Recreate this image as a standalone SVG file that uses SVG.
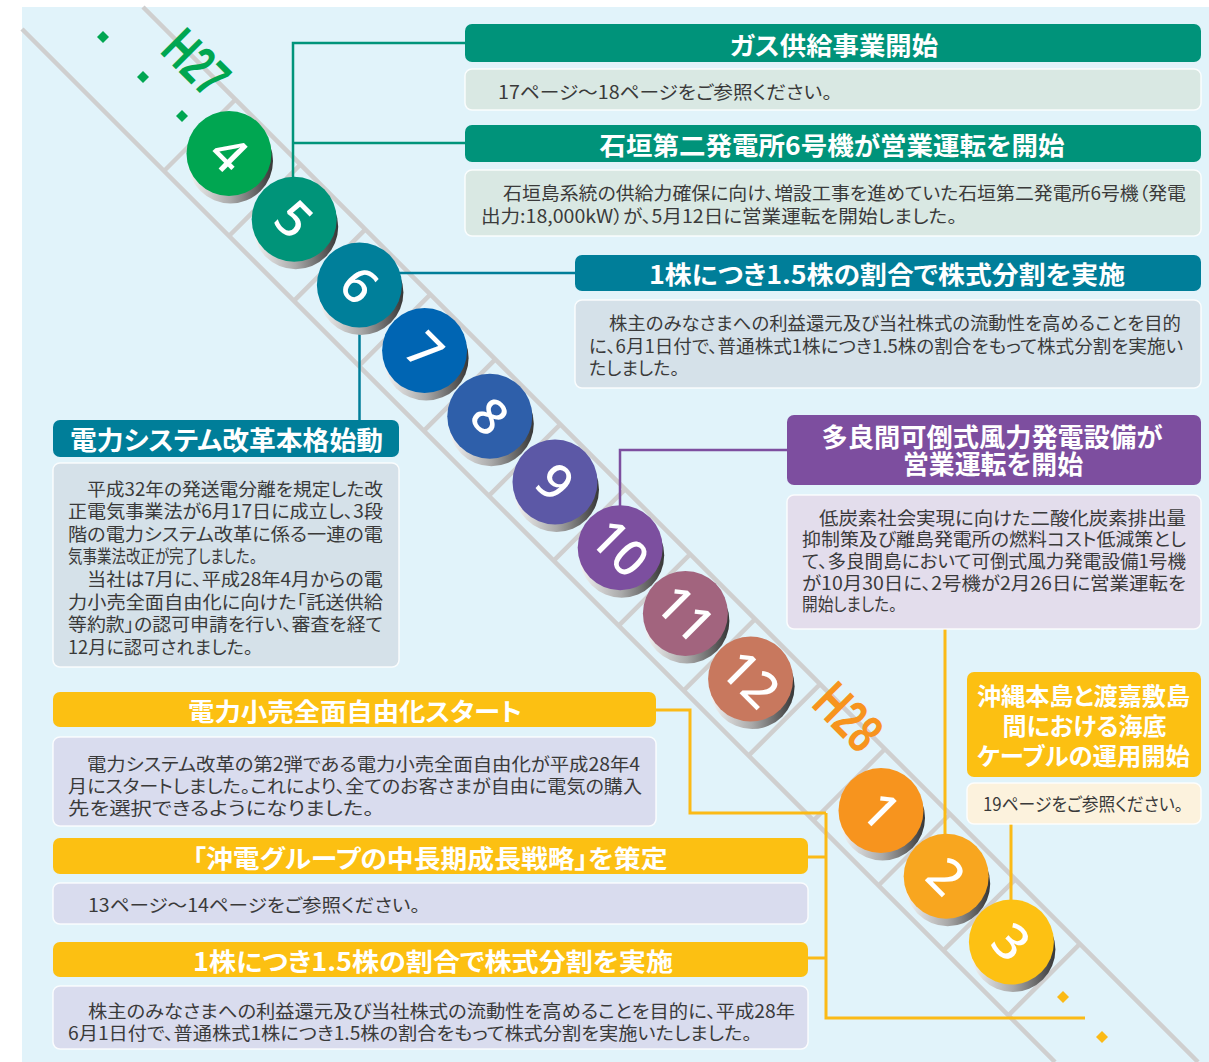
<svg xmlns="http://www.w3.org/2000/svg" width="1209" height="1062" viewBox="0 0 1209 1062">
<style>
.trk{stroke:#CFCFCF;stroke-width:4.5;fill:none;stroke-linecap:butt}
.cg{stroke:#00947A;stroke-width:2.5;fill:none}
.ct{stroke:#007E99;stroke-width:2.5;fill:none}
.cp{stroke:#7D4E9F;stroke-width:2.5;fill:none}
.cy{stroke:#FBBA16;stroke-width:3;fill:none}
.sh{fill:url(#shade)}
.num{font-family:"Noto Sans","DejaVu Sans",sans-serif;font-weight:500;font-size:50px;fill:#fff;text-anchor:middle}
.yr{font-family:"Liberation Sans","Noto Sans",sans-serif;font-weight:700;font-size:55px;text-anchor:middle}
.ht{font-family:"Noto Sans CJK JP","Noto Sans CJK SC",sans-serif;font-weight:700;fill:#fff;text-anchor:middle;dominant-baseline:central;font-feature-settings:"palt"}
.bt{font-family:"Noto Sans CJK JP","Noto Sans CJK SC",sans-serif;font-weight:400;font-size:18px;fill:#3a3a3a;dominant-baseline:central;font-feature-settings:"palt"}
.bx{stroke:#ffffff;stroke-width:1.5;stroke-opacity:0.85}
</style>
<defs>
<linearGradient id="shade" x1="0" y1="0" x2="1" y2="0">
<stop offset="0" stop-color="#f4f4f4"/>
<stop offset="0.5" stop-color="#a9a9a9"/>
<stop offset="1" stop-color="#363636"/>
</linearGradient>
</defs>

<rect x="22" y="7" width="1187" height="1055" fill="#E1F3FA"/>

<g id="track">
<path class="trk" d="M22,29 L1055,1062 M143,7 L1198,1062"/>
<path class="trk" d="M164,171 L235.5,99.5 M229,236 L300.5,164.5 M293.9,300.9 L365.4,229.4 M358.9,365.9 L430.4,294.4 M423.8,430.8 L495.3,359.3 M488.8,495.8 L560.3,424.3 M553.7,560.7 L625.2,489.2 M618.7,625.7 L690.2,554.2 M683.6,690.6 L755.1,619.1 M748.6,755.6 L820.1,684.1 M813.5,820.5 L885,749 M878.5,885.5 L950,814 M943.4,950.4 L1014.9,879.9 M1008.4,1015.4 L1079.9,943.9"/>
</g>

<g id="connectors">
<path class="cg" d="M465,43 H293 V200 M293,143 H465"/>
<path class="ct" d="M575,273 H380 M359.5,300 V420"/>
<path class="cp" d="M787,450 H620 V530"/>
<path class="cy" d="M945,629 V860 M1011,824 V920"/>
<path class="cy" d="M656,710 H690 V813 H826 M826,813 V1018 H1085 M808,857 H826 M808,958 H826"/>
</g>

<g id="coin-4" transform="translate(229,153.5)"><circle class="sh" cx="1.5" cy="7.5" r="42.5"/><circle r="42.5" fill="#00A651"/><text class="num" transform="rotate(45)" y="18">4</text></g>
<g id="coin-5" transform="translate(294.2,219.2)"><circle class="sh" cx="1.5" cy="7.5" r="42.5"/><circle r="42.5" fill="#009479"/><text class="num" transform="rotate(45)" y="18">5</text></g>
<g id="coin-6" transform="translate(359.4,284.9)"><circle class="sh" cx="1.5" cy="7.5" r="42.5"/><circle r="42.5" fill="#007F9A"/><text class="num" transform="rotate(45)" y="18">6</text></g>
<g id="coin-7" transform="translate(424.6,350.6)"><circle class="sh" cx="1.5" cy="7.5" r="42.5"/><circle r="42.5" fill="#0065B3"/><text class="num" transform="rotate(45)" y="18">7</text></g>
<g id="coin-8" transform="translate(489.8,416.3)"><circle class="sh" cx="1.5" cy="7.5" r="42.5"/><circle r="42.5" fill="#2E5FAA"/><text class="num" transform="rotate(45)" y="18">8</text></g>
<g id="coin-9" transform="translate(555,482)"><circle class="sh" cx="1.5" cy="7.5" r="42.5"/><circle r="42.5" fill="#5C58A6"/><text class="num" transform="rotate(45)" y="18">9</text></g>
<g id="coin-10" transform="translate(620.2,547.7)"><circle class="sh" cx="1.5" cy="7.5" r="42.5"/><circle r="42.5" fill="#7C4F9F"/><text class="num" transform="rotate(45)" y="18">10</text></g>
<g id="coin-11" transform="translate(685.4,613.4)"><circle class="sh" cx="1.5" cy="7.5" r="42.5"/><circle r="42.5" fill="#A2647E"/><text class="num" transform="rotate(45)" y="18">11</text></g>
<g id="coin-12" transform="translate(750.6,679.1)"><circle class="sh" cx="1.5" cy="7.5" r="42.5"/><circle r="42.5" fill="#C8785E"/><text class="num" transform="rotate(45)" y="18">12</text></g>
<g id="coin-1" transform="translate(881,810.5)"><circle class="sh" cx="1.5" cy="7.5" r="42.5"/><circle r="42.5" fill="#F7941E"/><text class="num" transform="rotate(45)" y="18">1</text></g>
<g id="coin-2" transform="translate(946.2,876.2)"><circle class="sh" cx="1.5" cy="7.5" r="42.5"/><circle r="42.5" fill="#F8A61F"/><text class="num" transform="rotate(45)" y="18">2</text></g>
<g id="coin-3" transform="translate(1011.4,941.9)"><circle class="sh" cx="1.5" cy="7.5" r="42.5"/><circle r="42.5" fill="#FDC113"/><text class="num" transform="rotate(45)" y="18">3</text></g>

<g id="label-h27" transform="translate(197,62) rotate(45)"><text class="yr" fill="#00A651" y="20" textLength="68" lengthAdjust="spacingAndGlyphs">H27</text></g>
<g id="label-h28" transform="translate(849,716) rotate(45)"><text class="yr" fill="#F7941E" y="20" textLength="70" lengthAdjust="spacingAndGlyphs">H28</text></g>

<g id="dots-start" fill="#00A651">
<polygon points="103,31 109,37 103,43 97,37"/>
<polygon points="143,71 149,77 143,83 137,77"/>
<polygon points="182,110 188,116 182,122 176,116"/>
</g>
<g id="dots-end" fill="#FBBA16">
<polygon points="1063,991 1069,997 1063,1003 1057,997"/>
<polygon points="1102,1031 1108,1037 1102,1043 1096,1037"/>
</g>

<g id="box-gas">
<rect x="465" y="24" width="736" height="38" rx="7" fill="#00937A"/>
<text class="ht" x="834" y="43.5" font-size="25" textLength="208" lengthAdjust="spacingAndGlyphs">ガス供給事業開始</text>
<rect class="bx" x="465" y="69" width="736" height="41" rx="7" fill="#D9E8E3"/>
<text class="bt" x="498" y="91" textLength="334" lengthAdjust="spacingAndGlyphs">17ページ～18ページをご参照ください。</text>
</g>

<g id="box-ishigaki">
<rect x="465" y="125" width="736" height="37" rx="7" fill="#00937A"/>
<text class="ht" x="832" y="143.5" font-size="25" textLength="465" lengthAdjust="spacingAndGlyphs">石垣第二発電所6号機が営業運転を開始</text>
<rect class="bx" x="465" y="170" width="736" height="66" rx="7" fill="#D9E8E3"/>
<text class="bt" x="503" y="192" textLength="683" lengthAdjust="spacingAndGlyphs">石垣島系統の供給力確保に向け、増設工事を進めていた石垣第二発電所6号機（発電</text>
<text class="bt" x="481" y="215" textLength="476" lengthAdjust="spacingAndGlyphs">出力:18,000kW）が、5月12日に営業運転を開始しました。</text>
</g>

<g id="box-split-2015">
<rect x="575" y="255" width="626" height="36" rx="7" fill="#007E99"/>
<text class="ht" x="887" y="273" font-size="25" textLength="476" lengthAdjust="spacingAndGlyphs">1株につき1.5株の割合で株式分割を実施</text>
<rect class="bx" x="575" y="300" width="626" height="88" rx="7" fill="#D5E1E9"/>
<text class="bt" x="609" y="322" textLength="572" lengthAdjust="spacingAndGlyphs">株主のみなさまへの利益還元及び当社株式の流動性を高めることを目的</text>
<text class="bt" x="589" y="344.5" textLength="594" lengthAdjust="spacingAndGlyphs">に、6月1日付で、普通株式1株につき1.5株の割合をもって株式分割を実施い</text>
<text class="bt" x="589" y="367">たしました。</text>
</g>

<g id="box-system-reform">
<rect x="53" y="420" width="346" height="37" rx="7" fill="#007E99"/>
<text class="ht" x="226.5" y="438.5" font-size="26" textLength="313" lengthAdjust="spacingAndGlyphs">電力システム改革本格始動</text>
<rect class="bx" x="53" y="463" width="346" height="204" rx="7" fill="#D5E1E9"/>
<text class="bt" x="87" y="487.5" textLength="296" lengthAdjust="spacingAndGlyphs">平成32年の発送電分離を規定した改</text>
<text class="bt" x="68" y="510.1" textLength="315" lengthAdjust="spacingAndGlyphs">正電気事業法が6月17日に成立し、3段</text>
<text class="bt" x="68" y="532.7" textLength="315" lengthAdjust="spacingAndGlyphs">階の電力システム改革に係る一連の電</text>
<text class="bt" x="68" y="555.3" textLength="189" lengthAdjust="spacingAndGlyphs">気事業法改正が完了しました。</text>
<text class="bt" x="87" y="577.9" textLength="296" lengthAdjust="spacingAndGlyphs">当社は7月に、平成28年4月からの電</text>
<text class="bt" x="68" y="600.5" textLength="315" lengthAdjust="spacingAndGlyphs">力小売全面自由化に向けた「託送供給</text>
<text class="bt" x="68" y="623.1" textLength="315" lengthAdjust="spacingAndGlyphs">等約款」の認可申請を行い、審査を経て</text>
<text class="bt" x="68" y="645.7" textLength="185" lengthAdjust="spacingAndGlyphs">12月に認可されました。</text>
</g>

<g id="box-tarama">
<rect x="787" y="415" width="414" height="70" rx="7" fill="#7D4E9F"/>
<text class="ht" x="992" y="435" font-size="26" textLength="341" lengthAdjust="spacingAndGlyphs">多良間可倒式風力発電設備が</text>
<text class="ht" x="993" y="462.5" font-size="26" textLength="180" lengthAdjust="spacingAndGlyphs">営業運転を開始</text>
<rect class="bx" x="787" y="495" width="414" height="134" rx="7" fill="#E3DDEC"/>
<text class="bt" x="819" y="516.7" textLength="367" lengthAdjust="spacingAndGlyphs">低炭素社会実現に向けた二酸化炭素排出量</text>
<text class="bt" x="802" y="538.3" textLength="384" lengthAdjust="spacingAndGlyphs">抑制策及び離島発電所の燃料コスト低減策とし</text>
<text class="bt" x="802" y="559.9" textLength="384" lengthAdjust="spacingAndGlyphs">て、多良間島において可倒式風力発電設備1号機</text>
<text class="bt" x="802" y="581.5" textLength="384" lengthAdjust="spacingAndGlyphs">が10月30日に、2号機が2月26日に営業運転を</text>
<text class="bt" x="802" y="603.1" textLength="95" lengthAdjust="spacingAndGlyphs">開始しました。</text>
</g>

<g id="box-cable">
<rect x="967" y="672" width="234" height="105" rx="7" fill="#FCC012"/>
<text class="ht" x="1083.5" y="694" font-size="24" textLength="213" lengthAdjust="spacingAndGlyphs">沖縄本島と渡嘉敷島</text>
<text class="ht" x="1084.5" y="724" font-size="24" textLength="164" lengthAdjust="spacingAndGlyphs">間における海底</text>
<text class="ht" x="1083.5" y="754" font-size="24" textLength="213" lengthAdjust="spacingAndGlyphs">ケーブルの運用開始</text>
<rect class="bx" x="967" y="783" width="234" height="41" rx="7" fill="#FCF2DD"/>
<text class="bt" x="983" y="803" font-size="16" textLength="200" lengthAdjust="spacingAndGlyphs">19ページをご参照ください。</text>
</g>

<g id="box-retail">
<rect x="53" y="692" width="603" height="35" rx="7" fill="#FCC012"/>
<text class="ht" x="355" y="709.5" font-size="25" textLength="334" lengthAdjust="spacingAndGlyphs">電力小売全面自由化スタート</text>
<rect class="bx" x="53" y="737" width="603" height="89" rx="7" fill="#D9DCEE"/>
<text class="bt" x="87" y="763" textLength="553" lengthAdjust="spacingAndGlyphs">電力システム改革の第2弾である電力小売全面自由化が平成28年4</text>
<text class="bt" x="68" y="785" textLength="574" lengthAdjust="spacingAndGlyphs">月にスタートしました。これにより、全てのお客さまが自由に電気の購入</text>
<text class="bt" x="68" y="807" textLength="306" lengthAdjust="spacingAndGlyphs">先を選択できるようになりました。</text>
</g>

<g id="box-strategy">
<rect x="53" y="838" width="755" height="36" rx="7" fill="#FCC012"/>
<text class="ht" x="430" y="856.5" font-size="25" textLength="475" lengthAdjust="spacingAndGlyphs">「沖電グループの中長期成長戦略」を策定</text>
<rect class="bx" x="53" y="883" width="755" height="41" rx="7" fill="#D9DCEE"/>
<text class="bt" x="88" y="904" textLength="332" lengthAdjust="spacingAndGlyphs">13ページ～14ページをご参照ください。</text>
</g>

<g id="box-split-2016">
<rect x="53" y="942" width="755" height="35" rx="7" fill="#FCC012"/>
<text class="ht" x="433" y="960" font-size="25" textLength="480" lengthAdjust="spacingAndGlyphs">1株につき1.5株の割合で株式分割を実施</text>
<rect class="bx" x="53" y="986" width="755" height="63" rx="7" fill="#D9DCEE"/>
<text class="bt" x="88" y="1010" textLength="707" lengthAdjust="spacingAndGlyphs">株主のみなさまへの利益還元及び当社株式の流動性を高めることを目的に、平成28年</text>
<text class="bt" x="68" y="1032" textLength="684" lengthAdjust="spacingAndGlyphs">6月1日付で、普通株式1株につき1.5株の割合をもって株式分割を実施いたしました。</text>
</g>
</svg>
